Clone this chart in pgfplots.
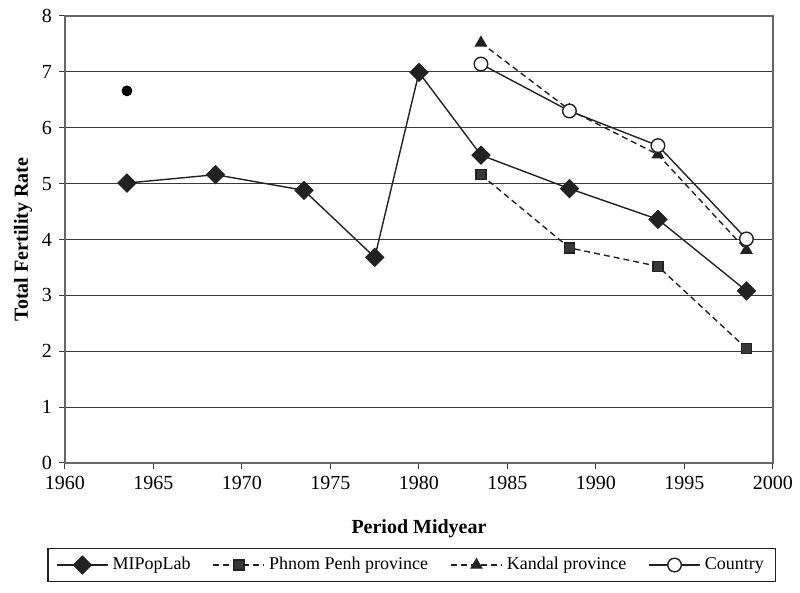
\documentclass[border=0pt]{standalone}
\usepackage{fontspec}
\setmainfont{Liberation Serif}
\usepackage{pgfplots}
\pgfplotsset{compat=1.18}
\definecolor{ink}{HTML}{222222}
\definecolor{gridc}{HTML}{3A3A3A}
\begin{document}
\begin{tikzpicture}
\begin{axis}[
  scale only axis,
  width=354pt, height=223.5pt,
  xmin=1960, xmax=2000, ymin=0, ymax=8,
  xtick={1960,1965,...,2000},
  ytick={0,1,...,8},
  xtick pos=bottom, ytick pos=left,
  tick align=outside,
  major tick length=3pt,
  tick style={gridc, line width=0.5pt},
  ymajorgrids,
  grid style={gridc, line width=0.6pt},
  axis line style={gray!80!black, line width=0.6pt},
  /pgf/number format/1000 sep={},
  /pgf/number format/assume math mode=true,
  tick label style={font=\fontsize{10}{12}\selectfont},
  xlabel={\textbf{Period Midyear}},
  ylabel={\textbf{Total Fertility Rate}},
  label style={font=\fontsize{10}{12}\selectfont},
  xlabel style={yshift=-8pt},
  ylabel style={yshift=-2pt},
  legend columns=4,
  legend style={at={(0.49,-0.19)}, anchor=north, draw=ink, line width=0.6pt,
    font=\fontsize{9}{11}\selectfont, inner xsep=4pt, inner ysep=2pt,
    nodes={text height=6.5pt, text depth=2pt},
    /tikz/every even column/.append style={column sep=9pt}},
  legend cell align=left,
  legend image code/.code={\draw[mark repeat=2,mark phase=2,#1] plot coordinates {(0cm,0cm) (0.45cm,0cm) (0.9cm,0cm)};},
  clip=false,
]
\addplot[ink, line width=0.7pt, mark=square*, mark size=3.1pt, mark options={rotate=45, solid, fill=ink}]
  coordinates {(1963.5,5.01) (1968.5,5.16) (1973.5,4.88) (1977.5,3.68) (1980,6.99) (1983.5,5.51) (1988.5,4.91) (1993.5,4.36) (1998.5,3.08)};
\addlegendentry{MIPopLab}
\addplot[ink, line width=0.7pt, dash pattern=on 3pt off 2pt, mark=square*, mark size=2.5pt, mark options={solid, fill=ink!90}]
  coordinates {(1983.5,5.16) (1988.5,3.85) (1993.5,3.52) (1998.5,2.05)};
\addlegendentry{Phnom Penh province}
\addplot[ink, line width=0.7pt, dash pattern=on 3pt off 2pt, mark=triangle*, mark size=3pt, mark options={solid, fill=ink}]
  coordinates {(1983.5,7.52) (1988.5,6.32) (1993.5,5.52) (1998.5,3.81)};
\addlegendentry{Kandal province}
\addplot[ink, line width=0.7pt, mark=*, mark size=3.4pt, mark options={solid, fill=white, draw=ink}]
  coordinates {(1983.5,7.14) (1988.5,6.30) (1993.5,5.68) (1998.5,4.01)};
\addlegendentry{Country}
\addplot[only marks, mark=*, mark size=2.5pt, black, forget plot]
  coordinates {(1963.5,6.66)};
\end{axis}
\path (current axis.south west) ++(-32.5pt,-65pt) coordinate (bl);
\path (current axis.north east) ++(13.5pt,8pt) coordinate (tr);
\path (bl) rectangle (tr);
\end{tikzpicture}
\end{document}
